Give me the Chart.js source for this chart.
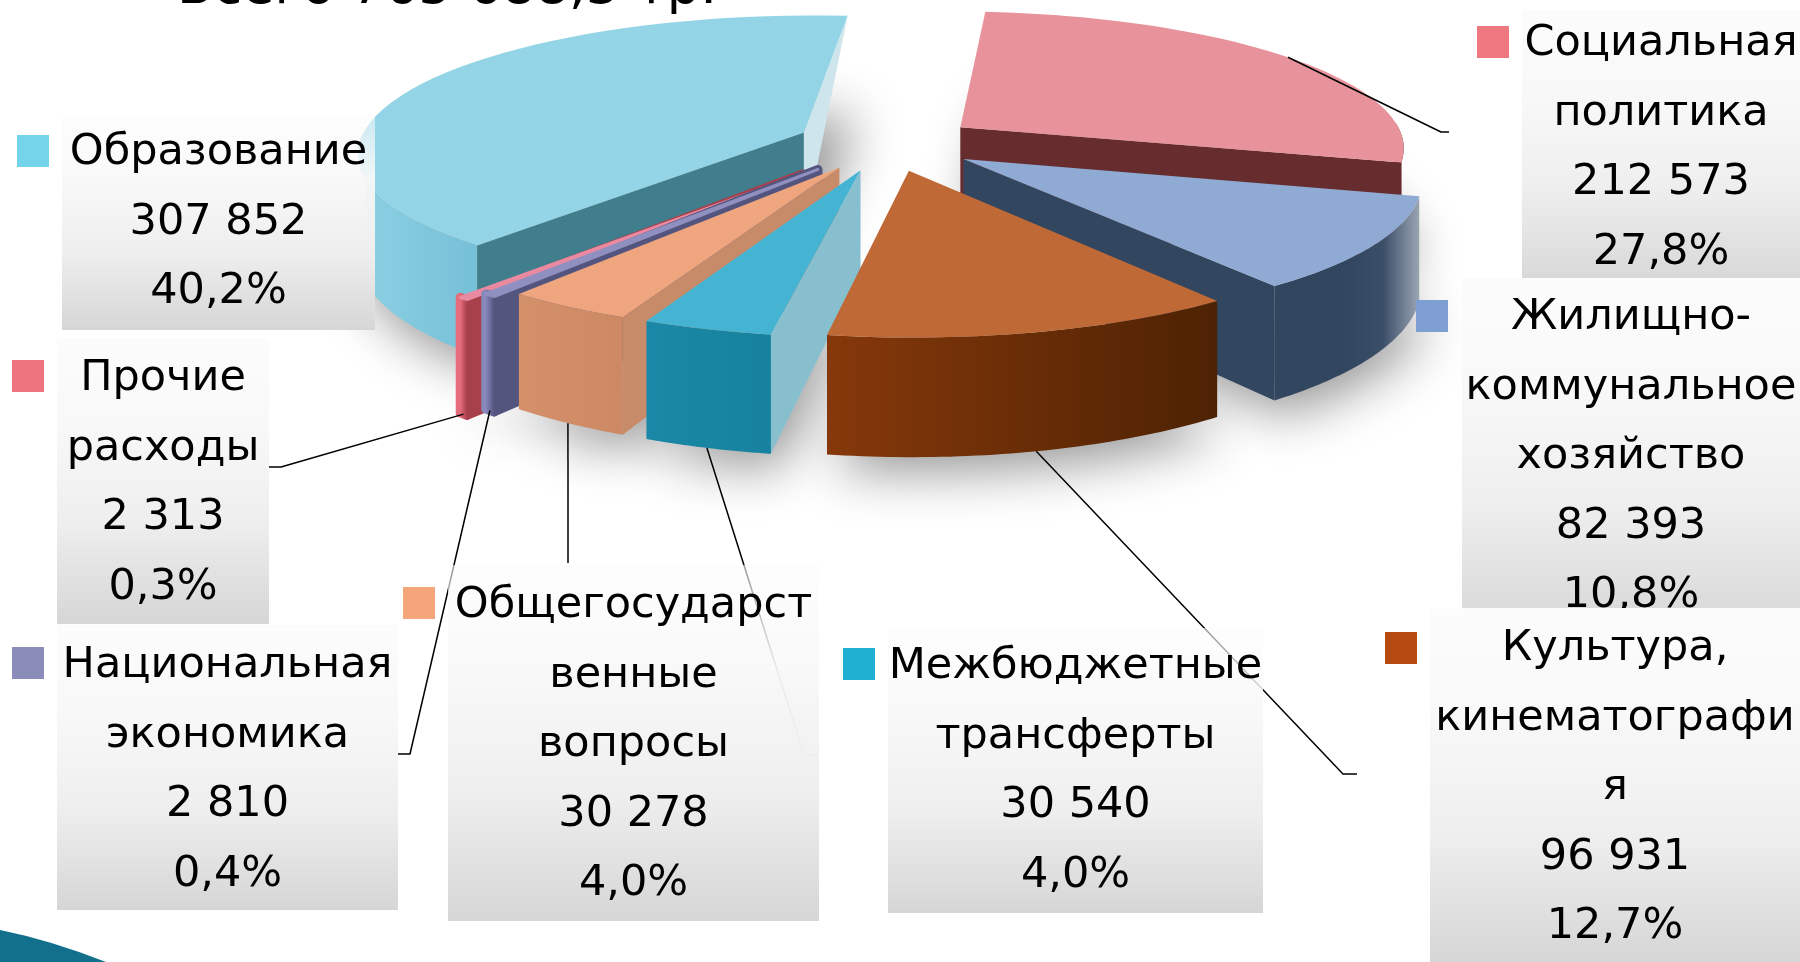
<!DOCTYPE html>
<html>
<head>
<meta charset="utf-8">
<title>Расходы бюджета</title>
<script src="https://cdn.jsdelivr.net/npm/chart.js@4"></script>
<style>
  html, body { margin: 0; background: #fff; }
  canvas { display: block; }
</style>
</head>
<body>
<canvas id="budgetChart" width="1800" height="962"></canvas>
<script>
const titleText = 'Всего 765 688,3 тр.';

// clockwise from the top of the pie
const categories = ['Социальная политика', 'Жилищно-коммунальное хозяйство', 'Культура, кинематография',
    'Межбюджетные трансферты', 'Общегосударственные вопросы', 'Национальная экономика', 'Прочие расходы', 'Образование'];
const values = [212573, 82393, 96931, 30540, 30278, 2810, 2313, 307852];
const labelLines = [
    ['Социальная', 'политика'],
    ['Жилищно-', 'коммунальное', 'хозяйство'],
    ['Культура,', 'кинематографи', 'я'],
    ['Межбюджетные', 'трансферты'],
    ['Общегосударст', 'венные', 'вопросы'],
    ['Национальная', 'экономика'],
    ['Прочие', 'расходы'],
    ['Образование']
];
const explode = [91, 91, 91, 91, 91, 108, 128, 91];
const thinBorder = [0, 0, 0, 0, 0, 9, 9, 0];

const keyColors = ['#EF7780', '#7F9FD2', '#B5490F', '#1FB0D2', '#F4A57A', '#8A8DB9', '#EE7580', '#74D4EA'];
const topColors = ['#E8939B', '#8FAAD3', '#BE6936', '#45B3D2', '#EFA67E', '#9090C0', '#E98AA0', '#93D5E6'];
const wallColors = [
    ['#662C2E', '#662C2E'],
    ['#33465F', '#33465F', '#33465F', '#3B4E68', '#9AA5B3'],
    ['#86380A', '#4D2203'],
    ['#1A88A6', '#16829F'],
    ['#D49069', '#CC8964'],
    ['#8888BC', '#53557F'],
    ['#E56C7C', '#A8404C'],
    ['#8DD0E3', '#6DBAD3', '#5FB4CD', '#5FB4CD']
];
// cut faces of each wedge: [along start angle, along end angle]
const cutColors = [
    ['#662C2E', '#662C2E'], ['#33465F', '#33465F'], ['#6B2D08', '#6B2D08'], ['#88BFCF', '#88BFCF'],
    ['#C88B69', '#C88B69'], ['#53557F', '#53557F'], ['#A8404C', '#A8404C'], ['#407E8E', '#CFE5EC']
];

// flat look of the pie
const tilt = 0.305;
const perspective = 0.000307;
const pieHeight = 100;

// label boxes, drawn in this order
const boxes = [
    { i: 7, x0: 62, x1: 375, y0: 114, y1: 330, keyX: 17, keyY: 135, line: 153, fade: 0.5 },
    { i: 6, x0: 57, x1: 269, y0: 339, y1: 624, keyX: 12, keyY: 360, line: 379, fade: 1 },
    { i: 5, x0: 57, x1: 398, y0: 625, y1: 910, keyX: 12, keyY: 647, line: 666, fade: 1 },
    { i: 4, x0: 448, x1: 819, y0: 565, y1: 921, keyX: 403, keyY: 587, line: 606, fade: 0.6 },
    { i: 3, x0: 888, x1: 1263, y0: 628, y1: 913, keyX: 843, keyY: 648, line: 667, fade: 0.6 },
    { i: 0, x0: 1522, x1: 1800, y0: 10, y1: 288, keyX: 1477, keyY: 26, line: 44, fade: 1 },
    { i: 1, x0: 1462, x1: 1800, y0: 278, y1: 633, keyX: 1416, keyY: 300, line: 318, fade: 1 },
    { i: 2, x0: 1430, x1: 1800, y0: 608, y1: 962, keyX: 1385, keyY: 632, line: 649, fade: 1 }
];
const leaders = [
    { i: 0, path: [[1441, 132], [1449, 132]] },
    { i: 2, path: [[1343, 774], [1357, 774]] },
    { i: 3, path: [[804, 755], [817, 755]] },
    { i: 4, path: [[568, 563]] },
    { i: 5, path: [[410, 754], [398, 754]] },
    { i: 6, path: [[281, 467], [269, 467]] }
];

const total = values.reduce((a, b) => a + b, 0);
const money = v => String(v).replace(/\B(?=(\d{3})+$)/g, ' ');
const percent = v => (v / total * 100).toFixed(1).replace('.', ',') + '%';

function wedgeShape(arc) {
    const mid = (arc.startAngle + arc.endAngle) / 2;
    const off = arc.options.offset;
    const ou = Math.cos(mid) * off, ov = Math.sin(mid) * off;
    return (angle, r, z) => {
        const u = ou + Math.cos(angle) * r, v = ov + Math.sin(angle) * r;
        const s = 1 / (1 - perspective * v);
        return [arc.x + u * s, arc.y + tilt * v * s + z * s];
    };
}

function fillPoly(ctx, pts, fill, border) {
    ctx.beginPath();
    pts.forEach((p, n) => n ? ctx.lineTo(p[0], p[1]) : ctx.moveTo(p[0], p[1]));
    ctx.closePath();
    ctx.fillStyle = fill;
    ctx.fill();
    if (border) {
        ctx.lineWidth = border;
        ctx.strokeStyle = fill;
        ctx.lineJoin = 'round';
        ctx.stroke();
    }
}

function arcPoints(arc, shape, z) {
    const pts = [];
    for (let n = 0; n <= 48; n++) {
        const a = arc.startAngle + (arc.endAngle - arc.startAngle) * n / 48;
        pts.push(shape(a, arc.outerRadius, z));
    }
    return pts;
}

function drawWedge(ctx, arc, i) {
    const shape = wedgeShape(arc);
    const border = arc.options.borderWidth;
    const apex = shape(0, 0, 0), apexLow = shape(0, 0, pieHeight);
    const rimTop = arcPoints(arc, shape, 0);
    const rimLow = arcPoints(arc, shape, pieHeight);
    const first = rimTop[0], last = rimTop[48];

    // only faces turned to the viewer are painted
    if (first[0] < apex[0]) fillPoly(ctx, [apex, first, rimLow[0], apexLow], cutColors[i][0], border);
    if (apex[0] < last[0]) {
        // a cut running to the back of the pie tapers off
        const face = Math.sin(arc.endAngle) < 0 ? [last, apex, apexLow] : [last, apex, apexLow, rimLow[48]];
        fillPoly(ctx, face, cutColors[i][1], border);
    }

    // outer wall, front part of the rim only
    const xs = rimTop.map(p => p[0]);
    const grad = ctx.createLinearGradient(Math.min(...xs), 0, Math.max(...xs), 0);
    wallColors[i].forEach((c, n, all) => grad.addColorStop(n / (all.length - 1), c));
    const front = rimTop.map((p, n) => n).filter(n => {
        const a = arc.startAngle + (arc.endAngle - arc.startAngle) * n / 48;
        return Math.sin(a) > -0.05;
    });
    if (front.length > 1) {
        const up = front.map(n => rimTop[n]), low = front.map(n => rimLow[n]).reverse();
        fillPoly(ctx, up.concat(low), grad, border);
    }

    fillPoly(ctx, [apex].concat(rimTop), topColors[i], border / 3);
}

function drawBox(ctx, box) {
    const grad = ctx.createLinearGradient(0, box.y0, 0, box.y1);
    grad.addColorStop(0, `rgba(252,252,252,${box.fade})`);
    grad.addColorStop(0.3, 'rgba(248,248,248,0.95)');
    grad.addColorStop(0.65, '#eeeeee');
    grad.addColorStop(1, '#d6d6d6');
    ctx.fillStyle = grad;
    ctx.fillRect(box.x0, box.y0, box.x1 - box.x0, box.y1 - box.y0);

    ctx.fillStyle = keyColors[box.i];
    ctx.fillRect(box.keyX, box.keyY, 32, 32);

    const lines = labelLines[box.i].concat(money(values[box.i]), percent(values[box.i]));
    ctx.fillStyle = '#000';
    ctx.font = '43px "DejaVu Sans"';
    ctx.textAlign = 'center';
    ctx.textBaseline = 'middle';
    lines.forEach((text, n) => ctx.fillText(text, (box.x0 + box.x1) / 2, box.line + n * 69.5));
}

const pie3d = {
    id: 'pie3d',
    beforeDatasetsDraw(chart) {
        const ctx = chart.ctx;
        const arcs = chart.getDatasetMeta(0).data;

        ctx.save();
        // corner of the slide template
        ctx.beginPath();
        ctx.moveTo(0, 930);
        ctx.quadraticCurveTo(50, 940, 106, 962);
        ctx.lineTo(0, 962);
        ctx.closePath();
        ctx.fillStyle = '#12708C';
        ctx.fill();

        ctx.font = '52.7px "DejaVu Sans"';
        ctx.fillStyle = '#000';
        ctx.textAlign = 'left';
        ctx.textBaseline = 'alphabetic';
        ctx.fillText(titleText, 177, 3);

        // soft shadow on the floor, the shape itself is drawn off the canvas
        ctx.save();
        ctx.shadowColor = 'rgba(0,0,0,0.42)';
        ctx.shadowBlur = 52;
        ctx.shadowOffsetX = 3008;
        ctx.shadowOffsetY = 14;
        ctx.translate(-3000, 0);
        arcs.forEach(arc => {
            const shape = wedgeShape(arc);
            fillPoly(ctx, [shape(0, 0, pieHeight)].concat(arcPoints(arc, shape, pieHeight)), '#000');
        });
        ctx.restore();

        // back to front
        const depth = arc => Math.sin((arc.startAngle + arc.endAngle) / 2);
        arcs.map((arc, i) => ({ arc, i }))
            .sort((a, b) => depth(a.arc) - depth(b.arc))
            .forEach(item => drawWedge(ctx, item.arc, item.i));

        ctx.strokeStyle = '#000';
        ctx.lineWidth = 1.5;
        leaders.forEach(leader => {
            const arc = arcs[leader.i];
            const mid = (arc.startAngle + arc.endAngle) / 2;
            const start = wedgeShape(arc)(mid, arc.outerRadius, Math.sin(mid) > 0 ? pieHeight : 0);
            ctx.beginPath();
            ctx.moveTo(start[0], start[1]);
            leader.path.forEach(p => ctx.lineTo(p[0], p[1]));
            ctx.stroke();
        });

        boxes.forEach(box => drawBox(ctx, box));
        ctx.restore();
        return false;
    }
};

new Chart(document.getElementById('budgetChart'), {
    type: 'pie',
    data: {
        labels: categories,
        datasets: [{
            data: values,
            backgroundColor: topColors,
            offset: explode,
            borderWidth: thinBorder
        }]
    },
    options: {
        responsive: false,
        animation: false,
        rotation: 5,
        radius: 445,
        layout: { padding: { right: 26, bottom: 676 } },
        plugins: { legend: { display: false }, tooltip: { enabled: false } }
    },
    plugins: [pie3d]
});
</script>
</body>
</html>
